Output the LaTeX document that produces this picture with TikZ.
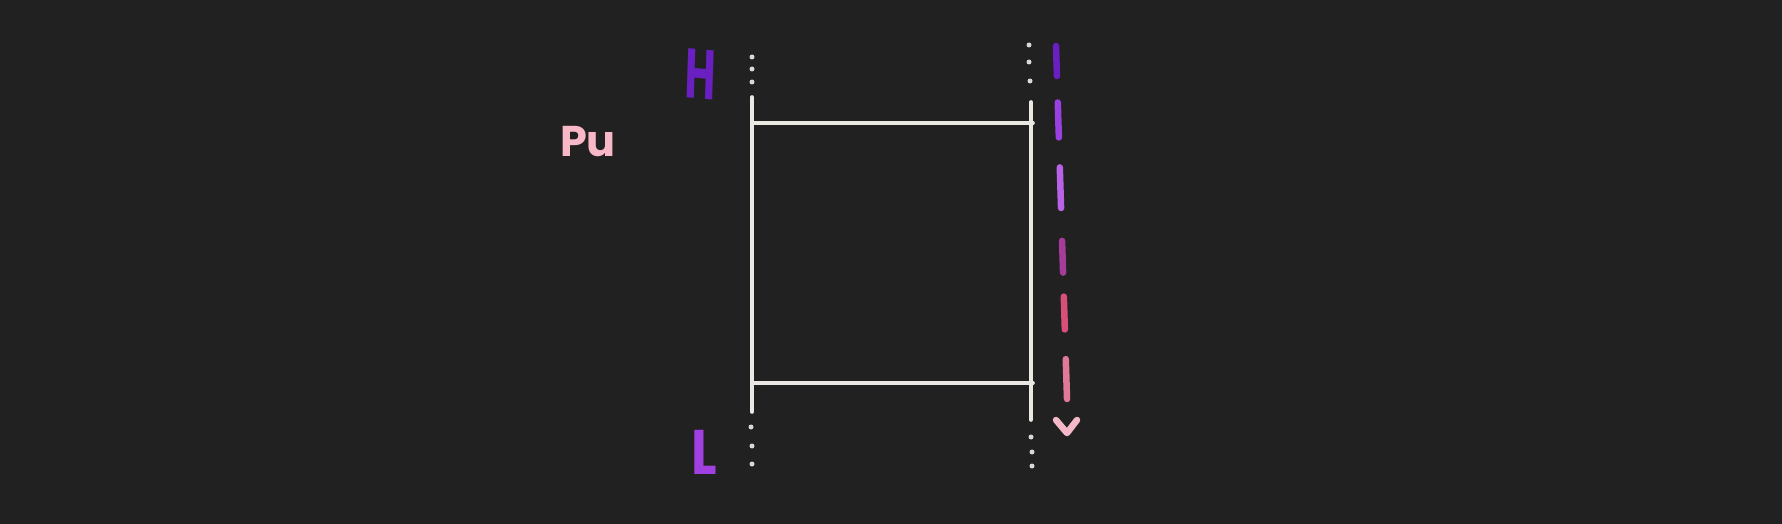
\documentclass[tikz,border=0pt]{standalone}
\usepackage{fontspec}
\setmainfont{Poppins}
\usetikzlibrary{calc}
\definecolor{bg}{HTML}{212121}
\definecolor{boxline}{HTML}{EBE8E3}
\definecolor{dotc}{HTML}{D8D8D8}
\definecolor{hcol}{HTML}{6A1FC0}
\definecolor{lcol}{HTML}{A040E0}
\definecolor{pucol}{HTML}{F8B8C8}
\definecolor{dA}{HTML}{6A1FC0}
\definecolor{dB}{HTML}{9A3FE0}
\definecolor{dC}{HTML}{B862E8}
\definecolor{dD}{HTML}{A63C9A}
\definecolor{dE}{HTML}{D8507A}
\definecolor{dF}{HTML}{E07A98}
\definecolor{tipc}{HTML}{F5B8C8}
\tikzset{
  boxedge/.style={draw=boxline, line width=3.6pt, line cap=round},
  dotmark/.style={fill=dotc},
  dashseg/.style={line width=6.5pt, line cap=round},
  handlabel/.style={inner sep=0pt, font=\bfseries},
}
\begin{document}
\begin{tikzpicture}[x=1pt,y=-1pt]
\fill[bg] (0,0) rectangle (1782,524);
\useasboundingbox (0,0) rectangle (1782,524);
% box corners
\coordinate (LT) at (752,97);
\coordinate (LB) at (752,412);
\coordinate (RT) at (1031,102);
\coordinate (RB) at (1031,420);
\coordinate (TL) at (752,123);
\coordinate (TR) at (1033,123);
\coordinate (BL) at (752,383);
\coordinate (BR) at (1033,383);
\draw[boxedge] (LT) -- (LB);
\draw[boxedge] (RT) -- (RB);
\draw[boxedge] (TL) -- (TR);
\draw[boxedge] (BL) -- (BR);
% dots
\foreach \x/\y in {752/57, 752/69, 752/82, 751/427, 752/446, 752/464,
                   1029/45, 1029/62, 1030/81, 1031/437, 1032/452, 1032/466}
  \fill[dotmark] (\x,\y) circle (2.5pt);
% dashed gradient arrow
\coordinate (AS) at (1056,46);
\coordinate (AE) at (1067,399);
\foreach \a/\b/\c in {0/0.085/dA, 0.16/0.259/dB, 0.344/0.459/dC, 0.552/0.642/dD, 0.71/0.803/dE, 0.887/1/dF}
  \draw[dashseg, draw=\c] ($(AS)!\a!(AE)$) -- ($(AS)!\b!(AE)$);
\coordinate (TipL) at (1056,420);
\coordinate (TipM) at (1067,433);
\coordinate (TipR) at (1077,420);
\draw[draw=tipc, line width=6.5pt, line cap=round, line join=round] (TipL) -- (TipM) -- (TipR);
% labels
\node[handlabel, text=hcol, font=\bfseries\fontsize{70}{70}\selectfont, xscale=0.6, rotate=-3] (H) at (701,74) {H};
\node[handlabel, text=lcol, font=\bfseries\fontsize{63}{63}\selectfont, xscale=0.85] (L) at (704,452) {L};
\node[handlabel, text=pucol, font=\bfseries\fontsize{43}{43}\selectfont] (Pu) at (588,142) {Pu};
\end{tikzpicture}
\end{document}
